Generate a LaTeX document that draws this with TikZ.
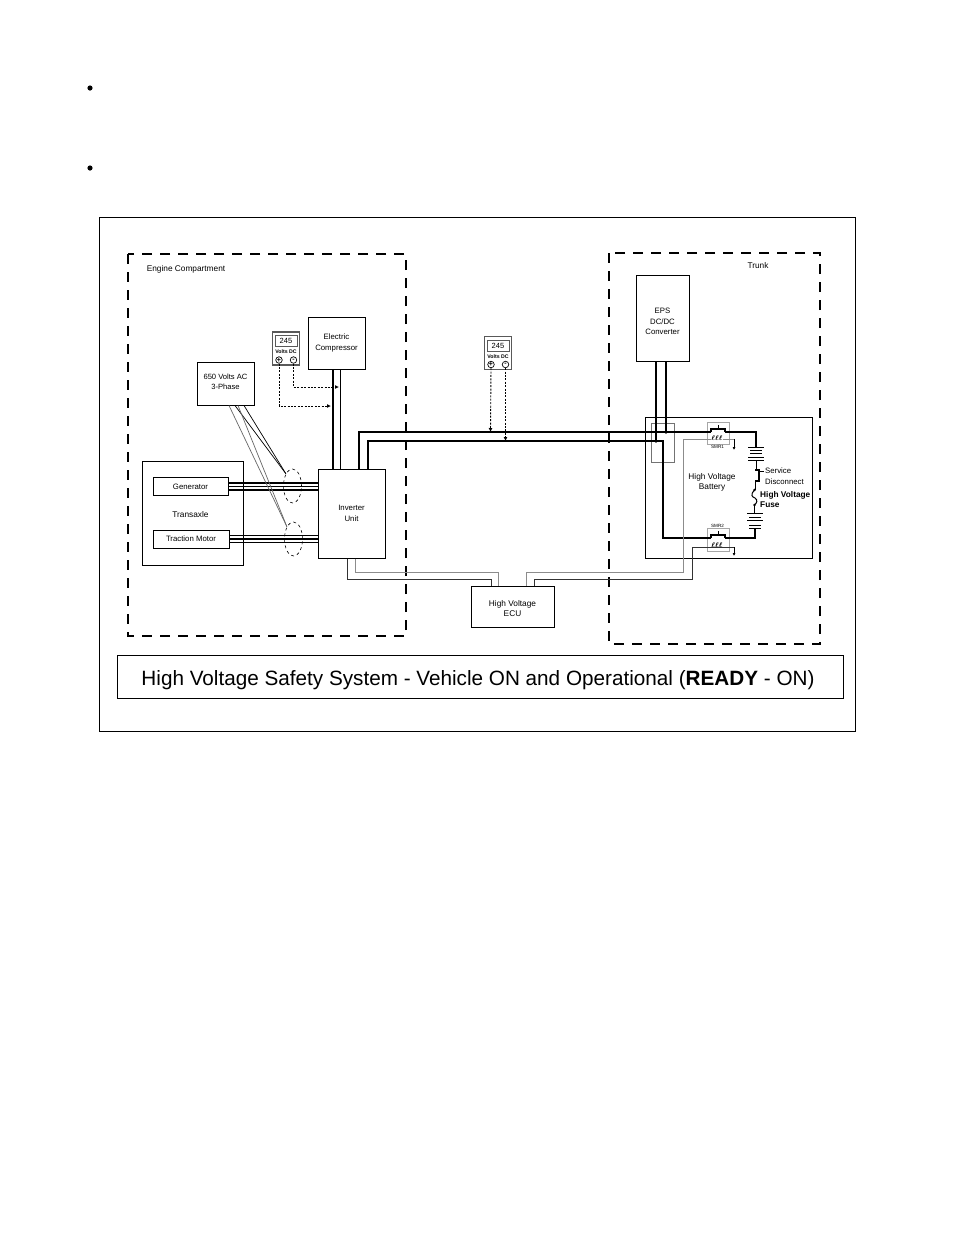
\documentclass[tikz,border=0pt]{standalone}
\usepackage{fontspec}
\setmainfont{Liberation Sans}
\usepackage{amsmath}
\usetikzlibrary{arrows.meta, shapes.geometric}
\tikzset{
  hvbox/.style={draw, line width=1pt, align=center, inner sep=0pt, font=\fontsize{7.8}{10.6}\selectfont},
  zonebox/.style={draw, line width=2pt, dash pattern=on 10pt off 8pt},
  hvwire/.style={line width=2.4pt},
  thinwire/.style={line width=1pt},
  ctrlgray/.style={line width=1pt, black!45},
  ctrlblack/.style={line width=1pt, black!80},
  phase/.style={line width=0.7pt},
  probe/.style={line width=0.9pt, dash pattern=on 2pt off 1.4pt, -{Latex[length=4pt,width=4pt]}},
  label/.style={inner sep=0pt, align=center, font=\fontsize{8.3}{10.6}\selectfont},
}
\begin{document}
\begin{tikzpicture}[x=1pt, y=-1pt]
\newcommand{\plateshort}{6}
\newcommand{\platelong}{8}
\newcommand{\voltmeter}[3]{
  \node[draw=black!65, line width=1.2pt, minimum width=27pt, minimum height=33pt, inner sep=0pt] (#1) at (#2, #3) {};
  \node[draw=black!65, line width=0.7pt, minimum width=22pt, minimum height=11pt, inner sep=0pt, font=\fontsize{7.5}{8}\selectfont] (#1val) at (#2, #3-7.5) {245};
  \node[inner sep=0pt, font=\fontsize{5.2}{6}\selectfont\bfseries] (#1unit) at (#2, #3+3.5) {Volts DC};
  \node[draw, circle, line width=0.7pt, minimum size=6.5pt, inner sep=0pt, font=\fontsize{7}{7}\selectfont\bfseries] (#1p) at (#2-7, #3+11.5) {+};
  \node[draw, circle, line width=0.7pt, minimum size=6.5pt, inner sep=0pt, font=\fontsize{7}{7}\selectfont\bfseries] (#1m) at (#2+7.5, #3+11.5) {-};
}
\useasboundingbox (0, 0) rectangle (954, 1235);
\fill[white] (0, 0) rectangle (954, 1235);

\fill (90, 88) circle (2.6);
\fill (90, 168) circle (2.6);
\draw[line width=0.9pt] (99, 217) rectangle (855.5, 731.5);

% zones
\draw[zonebox] (128, 254) rectangle (406, 636);
\draw[zonebox] (609, 253) rectangle (820, 644);
\node[label] (enginelabel) at (186, 269.5) {Engine Compartment};
\node[label] (trunklabel) at (758, 265.5) {Trunk};

% boxes
\node[hvbox, minimum width=53pt, minimum height=86pt] (eps) at (662.5, 318) {};
\node[label, font=\fontsize{7.8}{10.6}\selectfont] (epstext) at (662.5, 321.5) {EPS\\DC/DC\\Converter};
\node[hvbox, minimum width=57pt, minimum height=52pt] (compressor) at (336.5, 343) {Electric\\Compressor};
\node[hvbox, minimum width=57pt, minimum height=43pt] (phasebox) at (225.5, 383.5) {};
\node[label, font=\fontsize{7.6}{9.6}\selectfont] (phasetext) at (225.5, 381.5) {650 Volts AC\\3-Phase};
\node[hvbox, minimum width=101pt, minimum height=104pt] (transaxle) at (192.5, 513) {};
\node[label] (transaxletext) at (190.5, 514.5) {Transaxle};
\node[hvbox, minimum width=75pt, minimum height=18pt] (generator) at (190.5, 486.5) {Generator};
\node[hvbox, minimum width=76pt, minimum height=18pt] (traction) at (191, 539) {Traction Motor};
\node[hvbox, minimum width=67pt, minimum height=89pt] (inverter) at (351.5, 513.5) {Inverter\\Unit};
\node[hvbox, minimum width=83pt, minimum height=41pt] (ecu) at (512.5, 606.5) {};
\node[label] (ecutext) at (512.5, 608.5) {High Voltage\\ECU};
\node[draw, line width=0.8pt, minimum width=726pt, minimum height=43pt, inner sep=0pt] (title) at (480, 676.5) {};
\node[inner sep=0pt, font=\fontsize{20.7}{24}\selectfont] (titletext) at (478, 680) {High Voltage Safety System - Vehicle ON and Operational ({\bfseries READY} - ON)};

\node[draw, line width=1pt, minimum width=167pt, minimum height=141pt] (battery) at (728.5, 487.5) {};
\node[draw=black!55, line width=0.8pt, minimum width=23pt, minimum height=39pt] (tap) at (662.5, 442.5) {};
\node[draw=black!35, line width=0.8pt, minimum width=22pt, minimum height=22pt] (smrone) at (718, 433) {};
\node[draw=black!35, line width=0.8pt, minimum width=22pt, minimum height=23pt] (smrtwo) at (718, 539.5) {};
\node[label] (batterylabel) at (712, 482.5) {High Voltage\\Battery};

\voltmeter{meterone}{286}{348.5}
\voltmeter{metertwo}{498}{353}

% named wire points
\coordinate (conA) at (711, 432);
\coordinate (conB) at (725, 432);
\coordinate (conC) at (711, 538);
\coordinate (conD) at (725, 538);
\coordinate (busturn) at (663, 441);
\coordinate (epsA) at (666, 432);
\coordinate (epsB) at (656, 441);
\coordinate (battop) at (756, 447);
\coordinate (batbot) at (755, 528);
\coordinate (ctrlA) at (498, 572);
\coordinate (ctrlB) at (491, 579);
\coordinate (ctrlC) at (683, 572);
\coordinate (ctrlD) at (692, 579);
\coordinate (coilone) at (734, 439);
\coordinate (coiltwo) at (734, 547);
\coordinate (coiloneend) at (734, 450);
\coordinate (coiltwoend) at (734, 556);
\coordinate (probeA) at (331, 406);
\coordinate (probeB) at (339, 387);
\coordinate (probeC) at (490.5, 432);
\coordinate (probeD) at (505.5, 441);
\coordinate (invA) at (359, 469);
\coordinate (invB) at (368, 469);

% power wires
\draw[hvwire] ([xshift=-3.5pt]compressor.south) -- ([xshift=-3.5pt]compressor.south |- inverter.north);
\draw[thinwire] ([xshift=4pt]compressor.south) -- ([xshift=4pt]compressor.south |- inverter.north);
\draw[hvwire] (invA) |- (conA);
\draw[hvwire] (invB) |- (busturn) |- (conC);
\draw[hvwire] (eps.south -| epsA) -- (epsA);
\draw[hvwire] (eps.south -| epsB) -- (epsB);
\fill (epsA) circle (1.8);
\fill (epsB) circle (1.8);
\foreach \off in {-3.5, 0, 3.5} {
  \draw[line width=1.3pt] ([yshift=\off pt]generator.east) -- ([yshift=\off pt]generator.east -| inverter.west);
  \draw[line width=1.3pt] ([yshift=\off pt]traction.east) -- ([yshift=\off pt]traction.east -| inverter.west);
}
\draw[hvwire] (conB) -| (battop);
\draw[hvwire] (conD) -| (batbot);

% contactors
\draw[line width=2.6pt] (conA) -- ++(0, -3) -- ++(14, 0) -- (conB);
\draw[line width=2.6pt] (conC) -- ++(0, -3) -- ++(14, 0) -- (conD);
\draw[line width=0.7pt] (718, 429) -- (718, 425);
\draw[line width=0.7pt] (718, 535) -- (718, 531);

% control wires
\draw[ctrlgray] ([xshift=3.5pt]inverter.south) |- (ctrlA) -- ([xshift=-14.5pt]ecu.north);
\draw[ctrlblack] ([xshift=-4.5pt]inverter.south) |- (ctrlB) -- ([xshift=-21.5pt]ecu.north);
\draw[ctrlgray] ([xshift=13.5pt]ecu.north) |- (ctrlC) |- (coilone);
\draw[ctrlblack] ([xshift=21.5pt]ecu.north) |- (ctrlD) |- (coiltwo);
\draw[line width=0.7pt, -{Latex[length=3pt,width=3pt]}] (coilone) -- (coiloneend);
\draw[line width=0.7pt, -{Latex[length=3pt,width=3pt]}] (coiltwo) -- (coiltwoend);
\node[inner sep=0pt, fill=white, font=\fontsize{7}{7}\selectfont] (coilonetext) at (717, 438) {$\boldsymbol{\ell\ell\ell}$};
\node[inner sep=0pt, fill=white, font=\fontsize{7}{7}\selectfont] (coiltwotext) at (717, 545) {$\boldsymbol{\ell\ell\ell}$};
\node[inner sep=0pt, font=\fontsize{4.6}{5}\selectfont] (smronetext) at (717.5, 447) {SMR1};
\node[inner sep=0pt, font=\fontsize{4.6}{5}\selectfont] (smrtwotext) at (717.5, 526) {SMR2};

% battery strings
\foreach \py/\pw in {447/\platelong, 450.5/\plateshort, 453.5/\plateshort, 457/\platelong, 460/\platelong} {
  \draw[line width=0.9pt] (756-\pw, \py) -- (756+\pw, \py);
}
\foreach \py/\pw in {513/\platelong, 517/\plateshort, 520.5/\platelong, 525/\plateshort, 528/\plateshort} {
  \draw[line width=0.9pt] (755-\pw, \py) -- (755+\pw, \py);
}
\draw[line width=0.9pt] (756, 460) -- (756, 469);
\draw[line width=2.4pt] (755, 470) -- (759, 470) -- (759, 481) -- (755, 481);
\draw[line width=0.9pt] (755, 481) -- (755, 490);
\draw[line width=1pt] (754.5, 490) .. controls (750, 495) and (752, 497) .. (755, 498) .. controls (758, 500) and (757, 503) .. (754.5, 505);
\fill (754.5, 490) circle (1.4);
\fill (754.5, 505) circle (1.4);
\draw[line width=0.9pt] (754.5, 505) -- (754.5, 513);
\draw[line width=0.7pt] (760, 471) -- (764, 471);
\node[label, anchor=west, align=left, font=\fontsize{7.8}{10.6}\selectfont] (disconnect) at (765, 476.5) {Service\\Disconnect};
\node[label, anchor=west, align=left, font=\fontsize{8.3}{10}\selectfont\bfseries] (fuse) at (760, 499.5) {High Voltage\\Fuse};

% phase leads
\node[draw, ellipse, dashed, line width=0.6pt, minimum width=18pt, minimum height=34pt, inner sep=0pt] (genloop) at (292.5, 486) {};
\node[draw, ellipse, dashed, line width=0.6pt, minimum width=18pt, minimum height=34pt, inner sep=0pt] (motorloop) at (293.5, 539) {};
\draw[phase] ([xshift=18.5pt]phasebox.south) -- (genloop.north west);
\draw[phase] ([xshift=9.5pt]phasebox.south) -- (genloop.north west);
\draw[phase, black!60] ([xshift=3.5pt]phasebox.south) -- (motorloop.north west);
\draw[phase, black!60] ([xshift=12.5pt]phasebox.south) -- (motorloop.north west);

% meter probes
\draw[probe] (meteronep.south) |- (probeA);
\draw[probe] (meteronem.south) |- (probeB);
\draw[probe] (metertwop.south) -- (probeC);
\draw[probe] (metertwom.south) -- (probeD);
\end{tikzpicture}
\end{document}
